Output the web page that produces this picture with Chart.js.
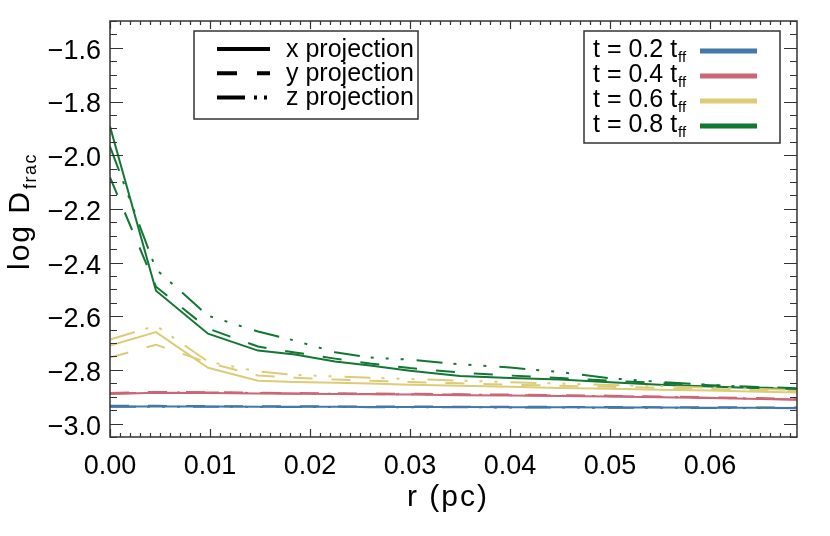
<!DOCTYPE html>
<html>
<head>
<meta charset="utf-8">
<script src="https://cdn.jsdelivr.net/npm/chart.js@4/dist/chart.umd.min.js"></script>
<style>
  html, body { margin: 0; padding: 0; background: #fff; }
  #wrap { width: 830px; height: 536px; }
</style>
</head>
<body>
<div id="wrap"><canvas id="chart" width="830" height="536"></canvas></div>
<script>
// DATA
// -----------------------------------------------------------------------------
var rValues = [0, 0.0046, 0.0098, 0.0148, 0.0185, 0.0225, 0.026, 0.030, 0.035, 0.040, 0.045, 0.050, 0.055, 0.060, 0.065, 0.0687];

// t = 0.2 tff
var t02x = [-2.936, -2.936, -2.936, -2.937, -2.937, -2.937, -2.938, -2.938, -2.938, -2.939, -2.939, -2.940, -2.940, -2.941, -2.941, -2.942];
var t02y = [-2.934, -2.934, -2.935, -2.935, -2.935, -2.936, -2.936, -2.936, -2.937, -2.937, -2.938, -2.938, -2.939, -2.939, -2.940, -2.940];
var t02z = [-2.937, -2.937, -2.937, -2.938, -2.938, -2.938, -2.939, -2.939, -2.939, -2.940, -2.940, -2.941, -2.941, -2.942, -2.942, -2.943];
// t = 0.4 tff
var t04x = [-2.890, -2.885, -2.886, -2.888, -2.889, -2.890, -2.891, -2.892, -2.894, -2.895, -2.897, -2.899, -2.902, -2.905, -2.908, -2.911];
var t04y = [-2.886, -2.882, -2.883, -2.885, -2.886, -2.887, -2.888, -2.889, -2.891, -2.892, -2.894, -2.896, -2.899, -2.902, -2.905, -2.908];
var t04z = [-2.888, -2.884, -2.884, -2.886, -2.888, -2.889, -2.890, -2.891, -2.892, -2.894, -2.896, -2.898, -2.901, -2.904, -2.907, -2.910];
// t = 0.6 tff
var t06x = [-2.709, -2.659, -2.792, -2.840, -2.845, -2.848, -2.851, -2.855, -2.859, -2.863, -2.867, -2.870, -2.874, -2.877, -2.881, -2.884];
var t06y = [-2.754, -2.706, -2.773, -2.821, -2.829, -2.836, -2.840, -2.845, -2.850, -2.855, -2.859, -2.863, -2.867, -2.871, -2.876, -2.879];
var t06z = [-2.687, -2.635, -2.769, -2.806, -2.819, -2.824, -2.829, -2.834, -2.840, -2.846, -2.851, -2.856, -2.861, -2.866, -2.871, -2.875];
// t = 0.8 tff
var t08x = [-1.893, -2.505, -2.665, -2.728, -2.743, -2.769, -2.784, -2.803, -2.823, -2.830, -2.836, -2.846, -2.855, -2.862, -2.868, -2.871];
var t08y = [-2.083, -2.490, -2.646, -2.713, -2.735, -2.758, -2.776, -2.793, -2.810, -2.821, -2.830, -2.840, -2.849, -2.857, -2.864, -2.868];
var t08z = [-1.968, -2.425, -2.598, -2.657, -2.691, -2.734, -2.754, -2.762, -2.779, -2.791, -2.808, -2.831, -2.845, -2.856, -2.866, -2.869];

var xTicks = [0, 0.01, 0.02, 0.03, 0.04, 0.05, 0.06];
var xTickLabels = ['0.00', '0.01', '0.02', '0.03', '0.04', '0.05', '0.06'];
var yTicks = [-3.0, -2.8, -2.6, -2.4, -2.2, -2.0, -1.8, -1.6];
var yTickLabels = ['\u22123.0', '\u22122.8', '\u22122.6', '\u22122.4', '\u22122.2', '\u22122.0', '\u22121.8', '\u22121.6'];

var timeLabels = ['0.2', '0.4', '0.6', '0.8'];
var timeColors = ['#4477AA', '#CC6677', '#DDCC77', '#117733'];
var projLabels = ['x projection', 'y projection', 'z projection'];

// STYLE
// -----------------------------------------------------------------------------
var FONT = '"Liberation Sans", Arial, Helvetica, sans-serif';
var projDash = [[], [19, 19], [26, 11, 3, 12, 3, 12, 3, 13]];
var series = [[t02x, t02y, t02z], [t04x, t04y, t04z], [t06x, t06y, t06z], [t08x, t08y, t08z]];

function toPoints(arr) {
    return rValues.map(function(r, i) { return { x: r, y: arr[i] }; });
}

var datasets = [];
series.forEach(function(group, ti) {
    group.forEach(function(arr, pi) {
        datasets.push({
            label: 't=' + timeLabels[ti] + ' ' + projLabels[pi],
            data: toPoints(arr),
            borderColor: timeColors[ti],
            borderWidth: 2,
            borderDash: projDash[pi],
            pointRadius: 0,
            tension: 0,
            fill: false
        });
    });
});

// Frame, ticks, labels and legends, IDL style
var decorPlugin = {
    id: 'decor',
    afterDraw: function(chart) {
        var ctx = chart.ctx;
        var a = chart.chartArea;
        var xs = chart.scales.x, ys = chart.scales.y;
        ctx.save();

        // frame
        ctx.strokeStyle = '#333';
        ctx.lineWidth = 1.5;
        ctx.strokeRect(a.left, a.top, a.right - a.left, a.bottom - a.top);

        // x ticks (bottom and top, inward)
        ctx.lineWidth = 1.2;
        ctx.beginPath();
        for (var k = 0; k <= 68; k++) {
            var v = k / 1000;
            var px = Math.round(xs.getPixelForValue(v)) + 0.5;
            var len = (k % 10 === 0) ? 8 : 4;
            ctx.moveTo(px, a.bottom); ctx.lineTo(px, a.bottom - len);
            ctx.moveTo(px, a.top); ctx.lineTo(px, a.top + len);
        }
        // y ticks (left and right, inward)
        for (var j = -61; j <= -30; j++) {
            var yv = j * 0.05;
            var py = Math.round(ys.getPixelForValue(yv)) + 0.5;
            var ylen = (j % 4 === 0) ? 13 : 7;
            ctx.moveTo(a.left, py); ctx.lineTo(a.left + ylen, py);
            ctx.moveTo(a.right, py); ctx.lineTo(a.right - ylen, py);
        }
        ctx.stroke();

        // tick labels
        ctx.fillStyle = '#000';
        ctx.font = '27px ' + FONT;
        ctx.textAlign = 'center';
        ctx.textBaseline = 'alphabetic';
        xTicks.forEach(function(v, i) {
            ctx.fillText(xTickLabels[i], xs.getPixelForValue(v), 474);
        });
        ctx.textAlign = 'right';
        ctx.textBaseline = 'middle';
        yTicks.forEach(function(v, i) {
            ctx.fillText(yTickLabels[i], 101, ys.getPixelForValue(v) + 3.5);
        });

        // axis titles (a bit wider than plain Arial, like the IDL font)
        ctx.textAlign = 'center';
        ctx.textBaseline = 'alphabetic';
        ctx.font = '30px ' + FONT;
        ctx.letterSpacing = '2px';
        ctx.fillText('r (pc)', 448, 506);

        ctx.save();
        ctx.translate(29, 270);
        ctx.rotate(-Math.PI / 2);
        ctx.textAlign = 'left';
        ctx.font = '30px ' + FONT;
        ctx.letterSpacing = '2px';
        ctx.fillText('log D', 0, 0);
        var w = ctx.measureText('log D').width;
        ctx.font = '18px ' + FONT;
        ctx.letterSpacing = '1.5px';
        ctx.fillText('frac', w + 1, 7);
        ctx.restore();
        ctx.letterSpacing = '0px';

        // projection legend
        ctx.fillStyle = '#fff';
        ctx.fillRect(194, 31, 224, 88);
        ctx.strokeStyle = '#333';
        ctx.lineWidth = 1.5;
        ctx.strokeRect(194, 31, 224, 88);
        ctx.font = '25px ' + FONT;
        ctx.textAlign = 'left';
        ctx.textBaseline = 'middle';
        projLabels.forEach(function(lbl, i) {
            var yy = 49 + i * 24.3;
            ctx.strokeStyle = '#000';
            ctx.lineWidth = 4;
            ctx.setLineDash(i === 0 ? [] : (i === 1 ? [20, 20] : [28, 9, 3, 7, 3, 20]));
            ctx.beginPath();
            ctx.moveTo(217, yy); ctx.lineTo(270, yy);
            ctx.stroke();
            ctx.setLineDash([]);
            ctx.fillStyle = '#000';
            ctx.fillText(lbl, 286, yy + 1);
        });

        // time legend
        ctx.fillStyle = '#fff';
        ctx.fillRect(584, 31, 196, 112);
        ctx.strokeStyle = '#333';
        ctx.lineWidth = 1.5;
        ctx.strokeRect(584, 31, 196, 112);
        timeLabels.forEach(function(lbl, i) {
            var yy = 50 + i * 25;
            ctx.fillStyle = '#000';
            ctx.font = '25px ' + FONT;
            ctx.textBaseline = 'middle';
            var txt = 't = ' + lbl + ' t';
            ctx.fillText(txt, 593, yy);
            var tw = ctx.measureText(txt).width;
            ctx.font = '15px ' + FONT;
            ctx.fillText('ff', 593 + tw + 1, yy + 8);
            ctx.strokeStyle = timeColors[i];
            ctx.lineWidth = 5;
            ctx.beginPath();
            ctx.moveTo(700, yy + 1); ctx.lineTo(757, yy + 1);
            ctx.stroke();
        });

        ctx.restore();
    }
};

// CHART
// -----------------------------------------------------------------------------
var chart = new Chart(document.getElementById('chart'), {
    type: 'line',
    data: { datasets: datasets },
    options: {
        responsive: false,
        animation: false,
        layout: { padding: { left: 110, right: 33, top: 21, bottom: 99 } },
        plugins: { legend: { display: false }, tooltip: { enabled: false } },
        scales: {
            x: { type: 'linear', display: false, min: 0, max: 0.0687 },
            y: { type: 'linear', display: false, min: -3.05, max: -1.5 }
        }
    },
    plugins: [decorPlugin]
});
</script>
</body>
</html>
